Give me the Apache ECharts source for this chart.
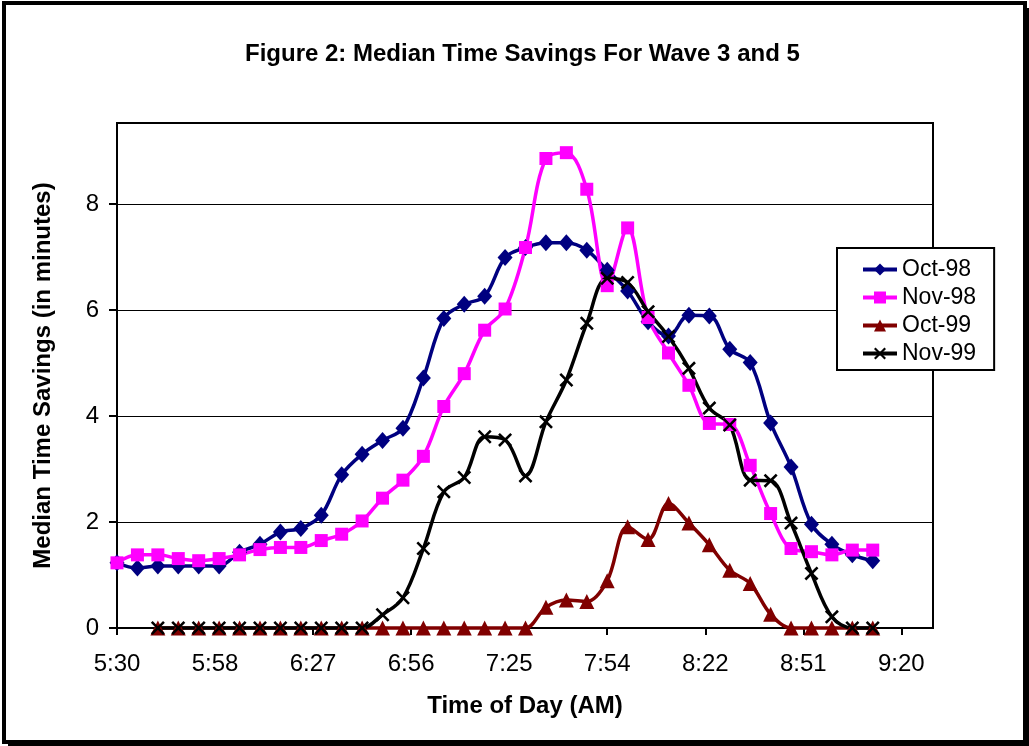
<!DOCTYPE html>
<html>
<head>
<meta charset="utf-8">
<script src="https://cdn.jsdelivr.net/npm/echarts@6/dist/echarts.min.js"></script>
<style>
  html, body { margin: 0; padding: 0; background: #fff; }
  #main { width: 1029px; height: 746px; }
</style>
</head>
<body>
<div id="main"></div>
<script>
// sample times, every 6 minutes
const times = ['5:30','5:36','5:42','5:48','5:54','6:00','6:06','6:12','6:18','6:24',
  '6:30','6:36','6:42','6:48','6:54','7:00','7:06','7:12','7:18','7:24',
  '7:30','7:36','7:42','7:48','7:54','8:00','8:06','8:12','8:18','8:24',
  '8:30','8:36','8:42','8:48','8:54','9:00','9:06','9:12']

const oct98 = [1.23,1.13,1.17,1.17,1.17,1.17,1.43,1.58,1.81,1.88,
  2.13,2.89,3.28,3.54,3.77,4.72,5.84,6.11,6.26,6.99,
  7.18,7.27,7.27,7.13,6.75,6.36,5.78,5.51,5.9,5.89,
  5.26,5.01,3.87,3.04,1.96,1.58,1.38,1.27]
const nov98 = [1.23,1.38,1.38,1.31,1.27,1.31,1.38,1.48,1.52,1.52,
  1.65,1.77,2.02,2.45,2.79,3.24,4.18,4.8,5.62,6.02,
  7.18,8.86,8.97,8.28,6.46,7.55,5.86,5.19,4.58,3.86,
  3.84,3.07,2.16,1.5,1.44,1.38,1.47,1.47]
const oct99 = [null,null,0,0,0,0,0,0,0,0,
  0,0,0,0,0,0,0,0,0,0,
  0,0.39,0.53,0.5,0.89,1.91,1.67,2.35,1.98,1.57,
  1.09,0.84,0.26,0,0,0,0,0]
const nov99 = [null,null,0,0,0,0,0,0,0,0,
  0,0,0,0.25,0.57,1.5,2.57,2.84,3.61,3.55,
  2.87,3.89,4.68,5.75,6.6,6.52,5.97,5.5,4.9,4.15,
  3.83,2.79,2.78,1.98,1.03,0.21,0,0]

// axis ticks (Excel steps of 0.02 day = 28.8 min from 5:30)
const tickLabels = ['5:30','5:58','6:27','6:56','7:25','7:54','8:22','8:51','9:20']
const tickStep = 28.8
const tickValues = tickLabels.map((t, i) => i * tickStep)
const yTicks = [0, 2, 4, 6, 8]

const FONT = '"Liberation Sans", Arial, sans-serif'

function toMin(t) {
  const p = t.split(':')
  return (+p[0]) * 60 + (+p[1]) - 330
}
function pairs(vals) {
  return times.map((t, i) => [toMin(t), vals[i]])
}

const xCross = 'path://M0,1.3L1.3,0L5,3.7L8.7,0L10,1.3L6.3,5L10,8.7L8.7,10L5,6.3L1.3,10L0,8.7L3.7,5Z'

function line(name, vals, color, symbol, size) {
  return {
    name: name,
    type: 'line',
    data: pairs(vals),
    smooth: 0.35,
    clip: false,
    symbol: symbol,
    symbolSize: size,
    showAllSymbol: true,
    lineStyle: {color: color, width: 3.5},
    itemStyle: {color: color, borderWidth: 0},
    emphasis: {disabled: true},
  }
}

const chart = echarts.init(document.getElementById('main'))
chart.setOption({
  animation: false,
  backgroundColor: '#fff',
  title: {
    text: 'Figure 2: Median Time Savings For Wave 3 and 5',
    left: 240,
    top: 37,
    textStyle: {fontFamily: FONT, fontSize: 24, fontWeight: 'bold', color: '#000'},
  },
  grid: {
    left: 117, top: 123, right: 96, bottom: 118,
    show: true, borderColor: '#000', borderWidth: 2, backgroundColor: '#fff',
  },
  legend: {
    orient: 'vertical',
    left: 837,
    top: 248,
    padding: [10, 18, 5, 24],
    itemWidth: 34,
    itemHeight: 15,
    itemGap: 5,
    borderColor: '#000',
    borderWidth: 2,
    backgroundColor: '#fff',
    lineStyle: {width: 4},
    textStyle: {fontFamily: FONT, fontSize: 23, color: '#000'},
    data: ['Oct-98', 'Nov-98', 'Oct-99', 'Nov-99'],
  },
  xAxis: {
    type: 'value',
    min: 0,
    max: 239.7,
    interval: tickStep,
    name: 'Time of Day (AM)',
    nameLocation: 'middle',
    nameGap: 66,
    nameTextStyle: {fontFamily: FONT, fontSize: 24, fontWeight: 'bold', color: '#000'},
    axisLine: {lineStyle: {color: '#000', width: 2}},
    axisTick: {show: true, length: 7, lineStyle: {color: '#000', width: 2}, customValues: tickValues},
    axisLabel: {
      fontFamily: FONT, fontSize: 24, color: '#000', margin: 24,
      customValues: tickValues,
      formatter: v => tickLabels[Math.round(v / tickStep)] || '',
    },
    splitLine: {show: false},
  },
  yAxis: {
    type: 'value',
    min: 0,
    max: 9.53,
    interval: 2,
    name: 'Median Time Savings (in minutes)',
    nameLocation: 'middle',
    nameGap: 62,
    nameTextStyle: {fontFamily: FONT, fontSize: 24, fontWeight: 'bold', color: '#000'},
    axisLine: {show: true, lineStyle: {color: '#000', width: 2}},
    axisTick: {show: true, length: 8, lineStyle: {color: '#000', width: 2}, customValues: yTicks},
    axisLabel: {fontFamily: FONT, fontSize: 24, color: '#000', margin: 18, customValues: yTicks},
    splitLine: {show: true, lineStyle: {color: '#000', width: 1}},
  },
  graphic: [
    {type: 'rect', shape: {x: 4, y: 3, width: 1021, height: 739}, style: {fill: 'none', stroke: '#000', lineWidth: 4}, silent: true},
    {type: 'rect', shape: {x: 1023, y: 8, width: 6, height: 738}, style: {fill: '#000'}, silent: true},
    {type: 'rect', shape: {x: 8, y: 740, width: 1021, height: 6}, style: {fill: '#000'}, silent: true},
  ],
  series: [
    line('Oct-98', oct98, '#000080', 'diamond', [15, 17]),
    line('Nov-98', nov98, '#ff00ff', 'rect', 13),
    line('Oct-99', oct99, '#800000', 'triangle', 15),
    line('Nov-99', nov99, '#000000', xCross, 14),
  ],
})
</script>
</body>
</html>
